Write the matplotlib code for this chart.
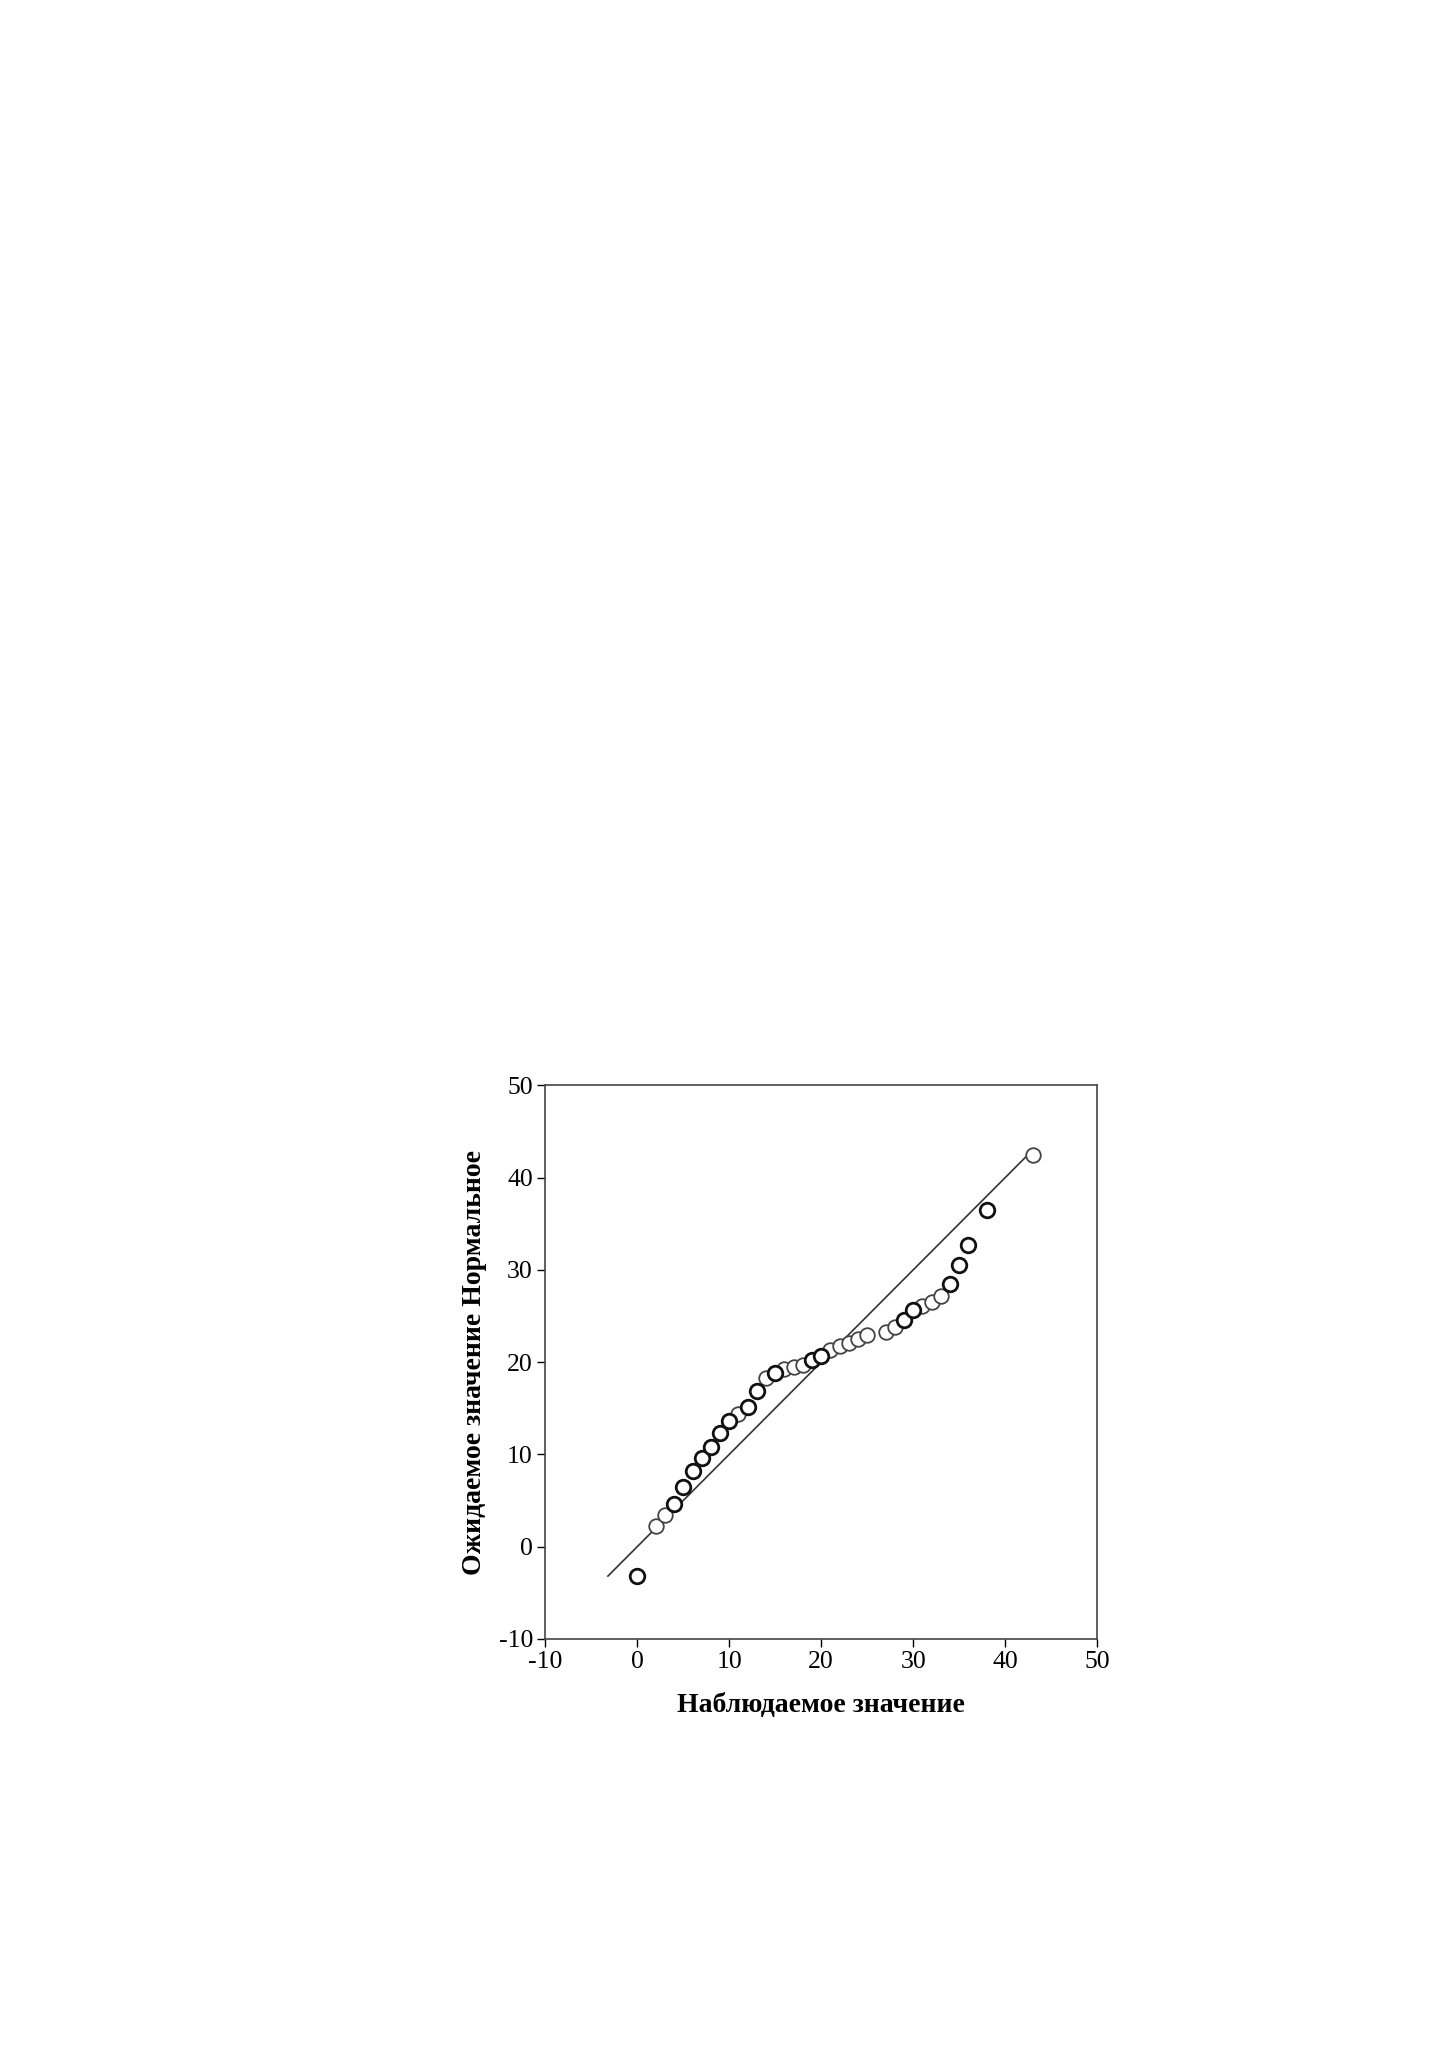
import matplotlib
matplotlib.use('Agg')
import matplotlib.pyplot as plt

plt.rcParams['font.family'] = ['Liberation Serif', 'DejaVu Serif']
plt.rcParams['axes.unicode_minus'] = False

observed = [0, 2, 3, 4, 5, 6, 7, 8, 9, 10, 11, 12, 13, 14, 15, 16, 17, 18, 19,
            20, 21, 22, 23, 24, 25, 27, 28, 29, 30, 31, 32, 33, 34, 35, 36, 38, 43]
expected = [-3.2, 2.2, 3.4, 4.6, 6.45, 8.2, 9.6, 10.8, 12.3, 13.6, 14.35, 15.1,
            16.85, 18.3, 18.8, 19.2, 19.5, 19.7, 20.2, 20.7, 21.3, 21.7, 22.1,
            22.5, 22.9, 23.25, 23.8, 24.6, 25.6, 26.1, 26.5, 27.15, 28.5, 30.5,
            32.75, 36.5, 42.5]
# 1 = repeated observation (drawn with a heavier outline)
repeated = [1, 0, 0, 1, 1, 1, 1, 1, 1, 1, 0, 1, 1, 0, 1, 0, 0, 0, 1,
            1, 0, 0, 0, 0, 0, 0, 0, 1, 1, 0, 0, 0, 1, 1, 1, 1, 0]

line_range = [-3.2, 42.5]
ticks = [-10, 0, 10, 20, 30, 40, 50]

fig = plt.figure(figsize=(14.49, 20.5), dpi=100)
ax = fig.add_axes([0.3764, 0.2006, 0.3807, 0.2699])

# reference line y = x
ax.plot(line_range, line_range, color='#333333', linewidth=1.2, zorder=1)

thin_x = [o for o, r in zip(observed, repeated) if not r]
thin_y = [e for e, r in zip(expected, repeated) if not r]
bold_x = [o for o, r in zip(observed, repeated) if r]
bold_y = [e for e, r in zip(expected, repeated) if r]

ax.scatter(thin_x, thin_y, s=110, facecolors='white', edgecolors='#444444',
           linewidths=1.3, zorder=2)
ax.scatter(bold_x, bold_y, s=110, facecolors='white', edgecolors='#111111',
           linewidths=2.0, zorder=3)

ax.set_xlim(-10, 50)
ax.set_ylim(-10, 50)
ax.set_xticks(ticks)
ax.set_yticks(ticks)
ax.tick_params(direction='out', length=6, width=1, labelsize=18.5,
               colors='black', pad=3)

for sp in ax.spines.values():
    sp.set_color('#444444')
    sp.set_linewidth(1.2)

ax.set_xlabel('Наблюдаемое значение', fontsize=20, fontweight='bold', labelpad=14)
ax.set_ylabel('Ожидаемое значение Нормальное', fontsize=20, fontweight='bold',
              labelpad=8)

fig.savefig('out.png', dpi=100, facecolor='white')
